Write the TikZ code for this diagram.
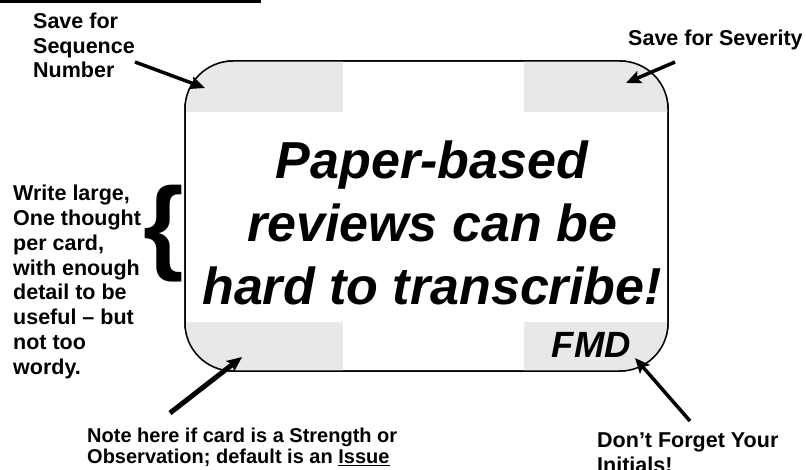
\documentclass[tikz,border=0pt]{standalone}
\usepackage{fontspec}
\setmainfont{Liberation Sans}
\usetikzlibrary{arrows.meta}
\definecolor{slotgray}{HTML}{E8E8E8}

\begin{document}
\begin{tikzpicture}[
      x=1pt,y=-1pt,
      note/.style={font=\fontsize{21.5}{24.8}\selectfont\bfseries,align=left,inner sep=0pt},
      card/.style={draw=black,line width=1.5pt,rounded corners=48pt,minimum width=483pt,minimum height=310pt,inner sep=0pt},
      slot/.style={fill=slotgray},
      arr/.style={-{Stealth[length=15pt,width=13pt,inset=3pt]},line width=3.5pt,black}
    ]
    \clip (0,0) rectangle (806,470);
    \fill (0,0) rectangle (261,3.5);
    \node[card] (card) at (426.5,216) {};
    \begin{scope}
      \clip[rounded corners=48pt] (card.north west) rectangle (card.south east);
      \fill[slot] (185,61) rectangle (343,112);
      \fill[slot] (524,61) rectangle (668,112);
      \fill[slot] (185,322) rectangle (343,371);
      \fill[slot] (524,322) rectangle (668,371);
    \end{scope}
    \node[card] (cardline) at (card.center) {};
    \node[font=\fontsize{52}{63}\selectfont\bfseries\itshape,align=center,inner sep=0pt] (msg) at (432,223) {Paper-based\\reviews can be\\hard to transcribe!};
    \node[font=\fontsize{36.5}{40}\selectfont\bfseries\itshape,anchor=base,inner sep=0pt] (initials) at (591.5,357) {FMD};
    \node[note,anchor=north west] (seq) at (33,12.5) {Save for\\Sequence\\Number};
    \node[note,anchor=base west] (sev) at (628,46) {Save for Severity};
    \node[note,anchor=north west] (write) at (13,185) {Write large,\\One thought\\per card,\\with enough\\detail to be\\useful – but\\not too\\wordy.};
    \node[font=\fontsize{104}{104}\selectfont\bfseries,anchor=base west,inner sep=0pt] (brace) at (143,261) {\{};
    \node[note,font=\fontsize{20}{21.6}\selectfont\bfseries,anchor=north west] (kind) at (87,427.4) {Note here if card is a Strength or\\Observation; default is an \underline{Issue}};
    \node[note,anchor=north west] (forget) at (597,432.5) {Don’t Forget Your\\Initials!};
    \coordinate (seqfrom) at (135,62);
    \coordinate (seqto) at (205,88);
    \coordinate (sevfrom) at (675,62);
    \coordinate (sevto) at (626,83);
    \coordinate (kindfrom) at (170,413);
    \coordinate (kindto) at (242,357);
    \coordinate (forgetfrom) at (690,421);
    \coordinate (forgetto) at (635,358);
    \draw[arr] (seqfrom) -- (seqto);
    \draw[arr] (sevfrom) -- (sevto);
    \draw[arr,line width=5pt] (kindfrom) -- (kindto);
    \draw[arr] (forgetfrom) -- (forgetto);
  \end{tikzpicture}
\end{document}
